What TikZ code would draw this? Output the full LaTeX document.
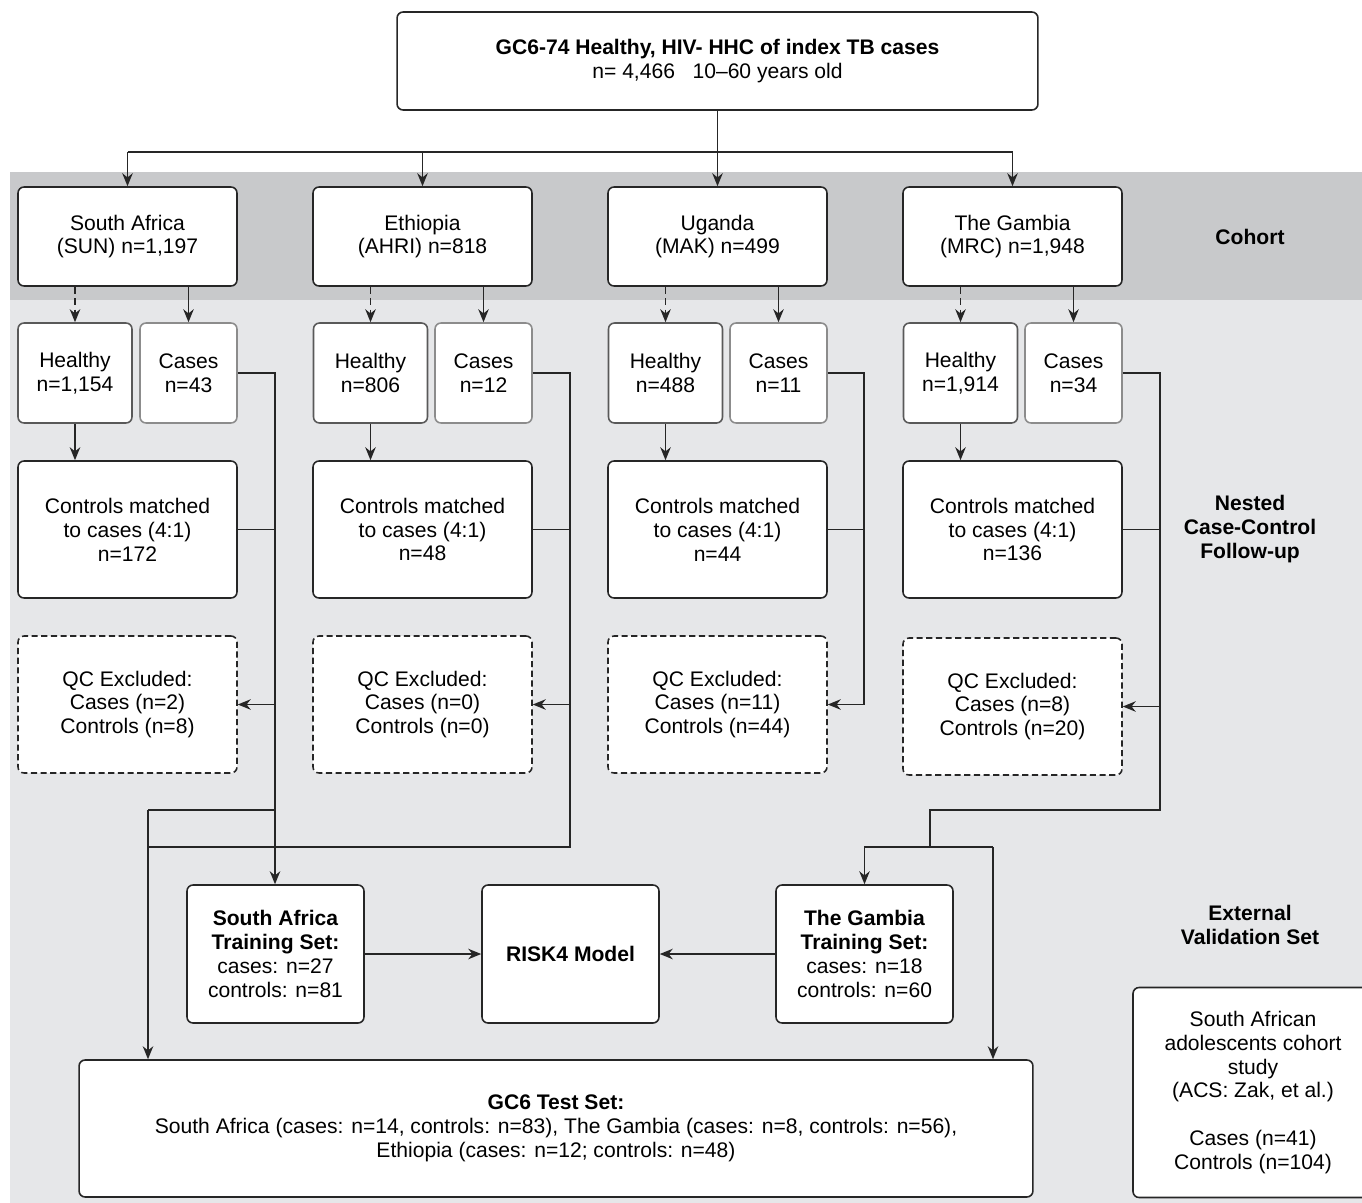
\documentclass[tikz,border=0pt]{standalone}
\usepackage{fontspec}
\setmainfont{Liberation Sans}
\usetikzlibrary{arrows.meta}
\definecolor{bandgray}{HTML}{C8C9CB}
\definecolor{panelgray}{HTML}{E6E7E9}

\begin{document}
\begin{tikzpicture}[x=0.02cm, y=-0.02cm,
  box/.style={draw=black!85, line width=0.9pt, rounded corners=0.12cm, fill=white, align=center, inner sep=0pt, font=\fontsize{12}{13.6}\selectfont},
  cohortbox/.style={box, minimum width=4.38cm, minimum height=1.98cm},
  healthybox/.style={box, draw=black!65, minimum width=2.28cm, minimum height=2cm},
  casesbox/.style={box, draw=black!45, minimum width=1.94cm, minimum height=2cm},
  ctrlbox/.style={box, minimum width=4.38cm, minimum height=2.74cm},
  qcbox/.style={ctrlbox, dash pattern=on 3.5pt off 2pt},
  trainbox/.style={box, minimum width=3.54cm, minimum height=2.76cm},
  phase/.style={align=center, font=\fontsize{12}{13.6}\selectfont\bfseries},
  line/.style={line width=0.8pt, black!85},
  arrow/.style={line, -{Stealth[length=2.6mm, width=2.1mm]}},
  dasharrow/.style={arrow, dash pattern=on 4pt off 2.5pt}
]

\useasboundingbox (0,0) rectangle (1362,1203);
\fill[panelgray] (10,172) rectangle (1362,1203);
\fill[bandgray] (10,172) rectangle (1362,300);

\node[box, minimum width=12.82cm, minimum height=1.96cm] (top) at (717.5,61) {\textbf{GC6-74 Healthy, HIV- HHC of index TB cases}\\n= 4,466\ \ \ 10–60 years old};

\node[cohortbox] (sa) at (127.5,236.5) {South Africa\\(SUN) n=1,197};
\node[cohortbox] (et) at (422.5,236.5) {Ethiopia\\(AHRI) n=818};
\node[cohortbox] (ug) at (717.5,236.5) {Uganda\\(MAK) n=499};
\node[cohortbox] (gm) at (1012.5,236.5) {The Gambia\\(MRC) n=1,948};

\node[healthybox] (saH) at (75,373) {Healthy\\n=1,154};
\node[casesbox] (saC) at (188.5,373) {Cases\\n=43};
\node[healthybox] (etH) at (370.5,373) {Healthy\\n=806};
\node[casesbox] (etC) at (483.5,373) {Cases\\n=12};
\node[healthybox] (ugH) at (665.5,373) {Healthy\\n=488};
\node[casesbox] (ugC) at (778.5,373) {Cases\\n=11};
\node[healthybox] (gmH) at (960.5,373) {Healthy\\n=1,914};
\node[casesbox] (gmC) at (1073.5,373) {Cases\\n=34};

\node[ctrlbox] (saK) at (127.5,529.5) {Controls matched\\to cases (4:1)\\n=172};
\node[ctrlbox] (etK) at (422.5,529.5) {Controls matched\\to cases (4:1)\\n=48};
\node[ctrlbox] (ugK) at (717.5,529.5) {Controls matched\\to cases (4:1)\\n=44};
\node[ctrlbox] (gmK) at (1012.5,529.5) {Controls matched\\to cases (4:1)\\n=136};

\node[qcbox] (saQ) at (127.5,704.5) {QC Excluded:\\Cases (n=2)\\Controls (n=8)};
\node[qcbox] (etQ) at (422.5,704.5) {QC Excluded:\\Cases (n=0)\\Controls (n=0)};
\node[qcbox] (ugQ) at (717.5,704.5) {QC Excluded:\\Cases (n=11)\\Controls (n=44)};
\node[qcbox] (gmQ) at (1012.5,706.5) {QC Excluded:\\Cases (n=8)\\Controls (n=20)};

\node[trainbox] (saT) at (275.5,954) {\textbf{South Africa}\\\textbf{Training Set:}\\cases: n=27\\controls: n=81};
\node[trainbox] (risk) at (570.5,954) {\textbf{RISK4 Model}};
\node[trainbox] (gmT) at (864.5,954) {\textbf{The Gambia}\\\textbf{Training Set:}\\cases: n=18\\controls: n=60};

\node[box, minimum width=19.08cm, minimum height=2.74cm] (gc6) at (556,1128.5) {\textbf{GC6 Test Set:}\\South Africa (cases: n=14, controls: n=83), The Gambia (cases: n=8, controls: n=56),\\Ethiopia (cases: n=12; controls: n=48)};
\node[box, minimum width=4.8cm, minimum height=4.2cm] (acs) at (1253,1092.5) {South African\\adolescents cohort\\study\\(ACS: Zak, et al.)\\[13.6pt]Cases (n=41)\\Controls (n=104)};

\node[phase] (cohortlbl) at (1250,237) {Cohort};
\node[phase] (nestedlbl) at (1250,529) {Nested\\Case-Control\\Follow-up};
\node[phase] (extlbl) at (1250,925) {External\\Validation Set};

\coordinate (bus) at (717.5,152);
\draw[line] (top.south) -- (bus);
\draw[line] (bus -| sa.north) -- (bus -| gm.north);
\draw[arrow] (bus -| sa.north) -- (sa.north);
\draw[arrow] (bus -| et.north) -- (et.north);
\draw[arrow] (bus) -- (ug.north);
\draw[arrow] (bus -| gm.north) -- (gm.north);

\draw[dasharrow] (sa.south -| saH.north) -- (saH.north);
\draw[arrow] (sa.south -| saC.north) -- (saC.north);
\draw[dasharrow] (et.south -| etH.north) -- (etH.north);
\draw[arrow] (et.south -| etC.north) -- (etC.north);
\draw[dasharrow] (ug.south -| ugH.north) -- (ugH.north);
\draw[arrow] (ug.south -| ugC.north) -- (ugC.north);
\draw[dasharrow] (gm.south -| gmH.north) -- (gmH.north);
\draw[arrow] (gm.south -| gmC.north) -- (gmC.north);

\draw[arrow] (saH.south) -- (saH.south |- saK.north);
\draw[arrow] (etH.south) -- (etH.south |- etK.north);
\draw[arrow] (ugH.south) -- (ugH.south |- ugK.north);
\draw[arrow] (gmH.south) -- (gmH.south |- gmK.north);

\coordinate (saV) at (275,704.5);
\coordinate (etV) at (570,704.5);
\coordinate (ugV) at (864,704.5);
\coordinate (gmV) at (1160,706.5);
\coordinate (jL) at (148,810);
\coordinate (jL2) at (148,847);
\coordinate (jR) at (930,810);
\coordinate (jR2) at (930,847);
\coordinate (jR3) at (993,847);

\draw[line] (saC.east) -| (saV);
\draw[line] (saK.east) -- (saK.east -| saV);
\draw[arrow] (saV) -- (saQ.east);
\draw[arrow] (saV) -- (saV |- saT.north);
\draw[line] (saV |- jL) -- (jL);

\draw[line] (etC.east) -| (etV);
\draw[line] (etK.east) -- (etK.east -| etV);
\draw[arrow] (etV) -- (etQ.east);
\draw[line] (etV) |- (jL2);
\draw[arrow] (jL) -- (jL |- gc6.north);

\draw[arrow] (ugC.east) -| (ugV) -- (ugQ.east);
\draw[line] (ugK.east) -- (ugK.east -| ugV);

\draw[line] (gmC.east) -| (gmV);
\draw[line] (gmK.east) -- (gmK.east -| gmV);
\draw[arrow] (gmV) -- (gmQ.east);
\draw[line] (gmV) |- (jR) -- (jR2);
\draw[arrow] (jR2) -| (gmT.north);
\draw[line] (jR2) -- (jR3);
\draw[arrow] (jR3) -- (jR3 |- gc6.north);

\draw[arrow] (saT) -- (risk);
\draw[arrow] (gmT) -- (risk);

\end{tikzpicture}
\end{document}
